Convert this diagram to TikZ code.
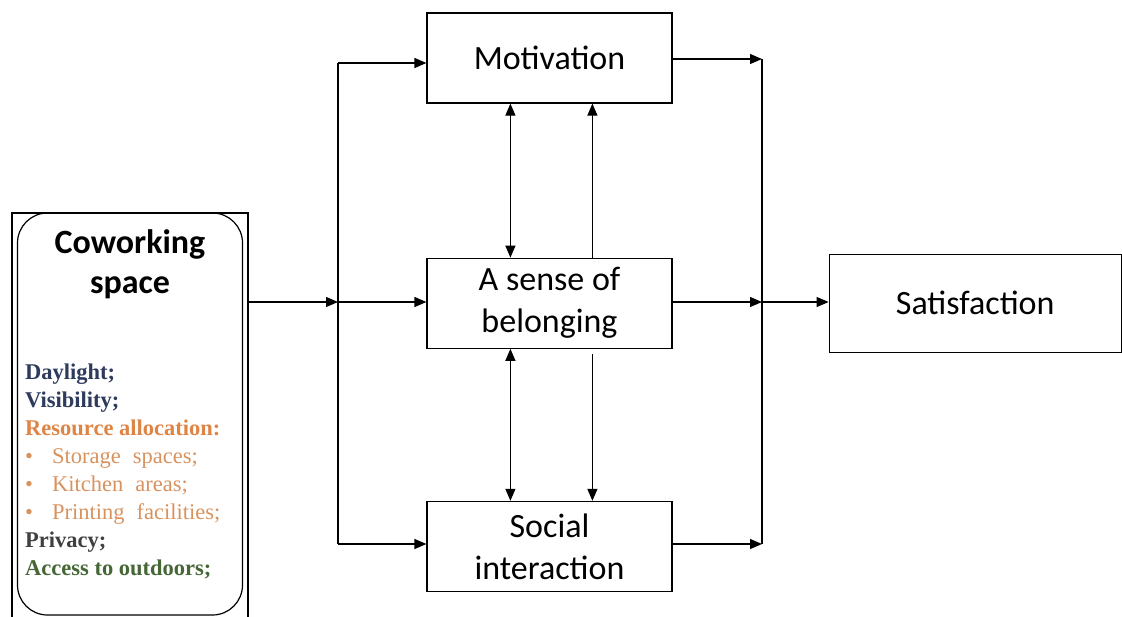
\documentclass[tikz,border=0pt]{standalone}
\usepackage{xcolor}
\usepackage{fontspec}
\usepackage{tikz}
\usetikzlibrary{positioning,arrows.meta}

\setmainfont{Liberation Serif}
\newfontfamily\calibri{Carlito}

\definecolor{dayblue}{HTML}{2E3B5C}
\definecolor{resorange}{HTML}{DE8546}
\definecolor{itemorange}{HTML}{D8925E}
\definecolor{privgray}{HTML}{404040}
\definecolor{outgreen}{HTML}{466636}

\begin{document}
\begin{tikzpicture}[x=1pt, y=-1pt, >={Triangle[length=12pt,width=10pt]}]

    % Define styles
    \tikzstyle{box} = [rectangle, draw, line width=1.2pt, inner sep=0pt, minimum width=245pt, minimum height=90pt, align=center, font=\calibri\fontsize{34}{42}\selectfont]
    \tikzstyle{frame} = [rectangle, draw, line width=1.2pt, inner sep=0pt, minimum width=236pt, minimum height=405pt]
    \tikzstyle{inner} = [rectangle, draw, line width=1.2pt, rounded corners=30pt, inner sep=0pt, minimum width=225pt, minimum height=402pt]
    \tikzstyle{title} = [inner sep=0pt, align=center, font=\calibri\bfseries\fontsize{34}{40}\selectfont]
    \tikzstyle{factors} = [inner sep=0pt, align=left, font=\fontsize{22.5}{28}\selectfont]
    \tikzstyle{flow} = [line width=1.2pt, ->]
    \tikzstyle{link} = [line width=1.2pt]

    \useasboundingbox (0,0) rectangle (1122,616);

    % Coworking space
    \node [frame] (frame) at (130,415.5) {};
    \node [inner, below=0pt of frame.north] (cowork) {};
    \node [title, below=17pt of cowork.north] (cwtitle) {Coworking\\space};
    \node [factors, anchor=north west] (cwlist) at (25,364) {%
        {\color{dayblue}\textbf{Daylight;}}\\
        {\color{dayblue}\textbf{Visibility;}}\\
        {\color{resorange}\textbf{Resource allocation:}}\\
        {\color{itemorange}\makebox[27pt][l]{\textbullet}Storage\hspace{12pt}spaces;}\\
        {\color{itemorange}\makebox[27pt][l]{\textbullet}Kitchen\hspace{12pt}areas;}\\
        {\color{itemorange}\makebox[27pt][l]{\textbullet}Printing\hspace{12pt}facilities;}\\
        {\color{privgray}\textbf{Privacy;}}\\
        {\color{outgreen}\textbf{Access to outdoors;}}};

    % Mediators
    \node [box] (motiv) at (549.5,58) {Motivation};
    \node [box, below=154pt of motiv] (sense) {A sense of\\belonging};
    \node [box, below=152pt of sense] (social) {Social\\interaction};

    % Outcome
    \node [box, minimum width=292pt, minimum height=98pt, right=156pt of sense] (satis) {Satisfaction};

    % Bus points
    \coordinate (lt) at (338,63);
    \coordinate (lm) at (338,302);
    \coordinate (lb) at (338,544);
    \coordinate (rt) at (762,59);
    \coordinate (rm) at (762,302);
    \coordinate (rb) at (762,544);

    % Flows
    \draw [flow] (frame.east |- lm) -- (lm);
    \draw [link] (lt) -- (lb);
    \draw [flow] (lt) -- (motiv.west |- lt);
    \draw [flow] (lm) -- (sense.west |- lm);
    \draw [flow] (lb) -- (social.west |- lb);
    \draw [flow] (motiv.east |- rt) -- (rt);
    \draw [flow] (sense.east |- rm) -- (rm);
    \draw [flow] (social.east |- rb) -- (rb);
    \draw [link] (rt) -- (rb);
    \draw [flow] (rm) -- (satis.west |- rm);

    \draw [flow, <->] ([xshift=84pt]motiv.south west) -- ([xshift=84pt]sense.north west);
    \draw [flow] ([xshift=166pt]sense.north west) -- ([xshift=166pt]motiv.south west);
    \draw [flow, <->] ([xshift=84pt]sense.south west) -- ([xshift=84pt]social.north west);
    \draw [flow] ([xshift=166pt,yshift=-5pt]sense.south west) -- ([xshift=166pt]social.north west);

\end{tikzpicture}
\end{document}
